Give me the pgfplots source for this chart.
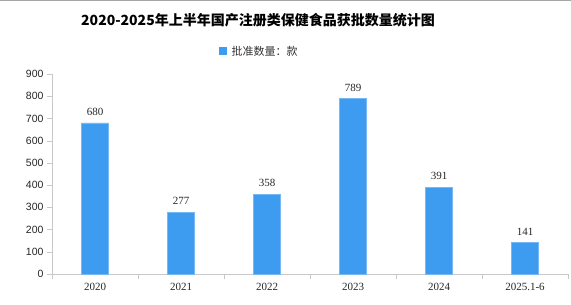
\documentclass[border=0pt]{standalone}
\usepackage{fontspec}
\setmainfont{Liberation Sans}
\newfontfamily\cjk{Noto Sans CJK SC}
\newfontfamily\serifnum{Liberation Serif}
\usepackage{pgfplots}
\pgfplotsset{compat=1.18}
\definecolor{barblue}{RGB}{61,155,240}
\definecolor{axgray}{RGB}{200,200,200}
\begin{document}
\begin{tikzpicture}[x=1bp,y=1bp]
\path[use as bounding box] (0,0) rectangle (571,304);
\draw[gray!70, line width=1.2bp] (0,303.4) -- (571,303.4);
\node[font=\cjk\bfseries\fontsize{14bp}{16bp}\selectfont] at (258,284) {2020-2025年上半年国产注册类保健食品获批数量统计图};
\fill[barblue] (219,249) rectangle (227,257);
\node[anchor=west, font=\cjk\fontsize{11bp}{13bp}\selectfont, text=black!80] at (228,253) {批准数量：款};
\begin{axis}[
  at={(52bp,30bp)}, anchor=south west,
  scale only axis, width=516bp, height=200bp,
  xmin=-0.5, xmax=5.5, ymin=0, ymax=900,
  ytick={0,100,...,900},
  xtick={0,...,5},
  xticklabels={2020,2021,2022,2023,2024,2025.1-6},
  minor xtick={-0.5,0.5,...,5.5},
  axis x line*=bottom, axis y line*=left,
  axis line style={axgray, -},
  tick style={axgray},
  major x tick style={draw=none},
  minor tick length=5bp,
  major tick length=5bp,
  xtick pos=bottom, ytick pos=left,
  ytick align=outside, xtick align=outside,
  tick label style={font=\serifnum\fontsize{11bp}{13bp}\selectfont, text=black!85},
  xticklabel style={yshift=-1bp},
  yticklabel style={font=\fontsize{10.5bp}{12bp}\selectfont, text=black!85},
  /pgf/number format/assume math mode=true,
  ybar, bar width=27bp,
  nodes near coords,
  every node near coord/.style={font=\serifnum\fontsize{11bp}{13bp}\selectfont, text=black!85, yshift=4bp},
  clip=false,
]
\addplot[fill=barblue, draw=barblue!70!white] coordinates {(0,680) (1,277) (2,358) (3,789) (4,391) (5,141)};
\end{axis}
\end{tikzpicture}
\end{document}
